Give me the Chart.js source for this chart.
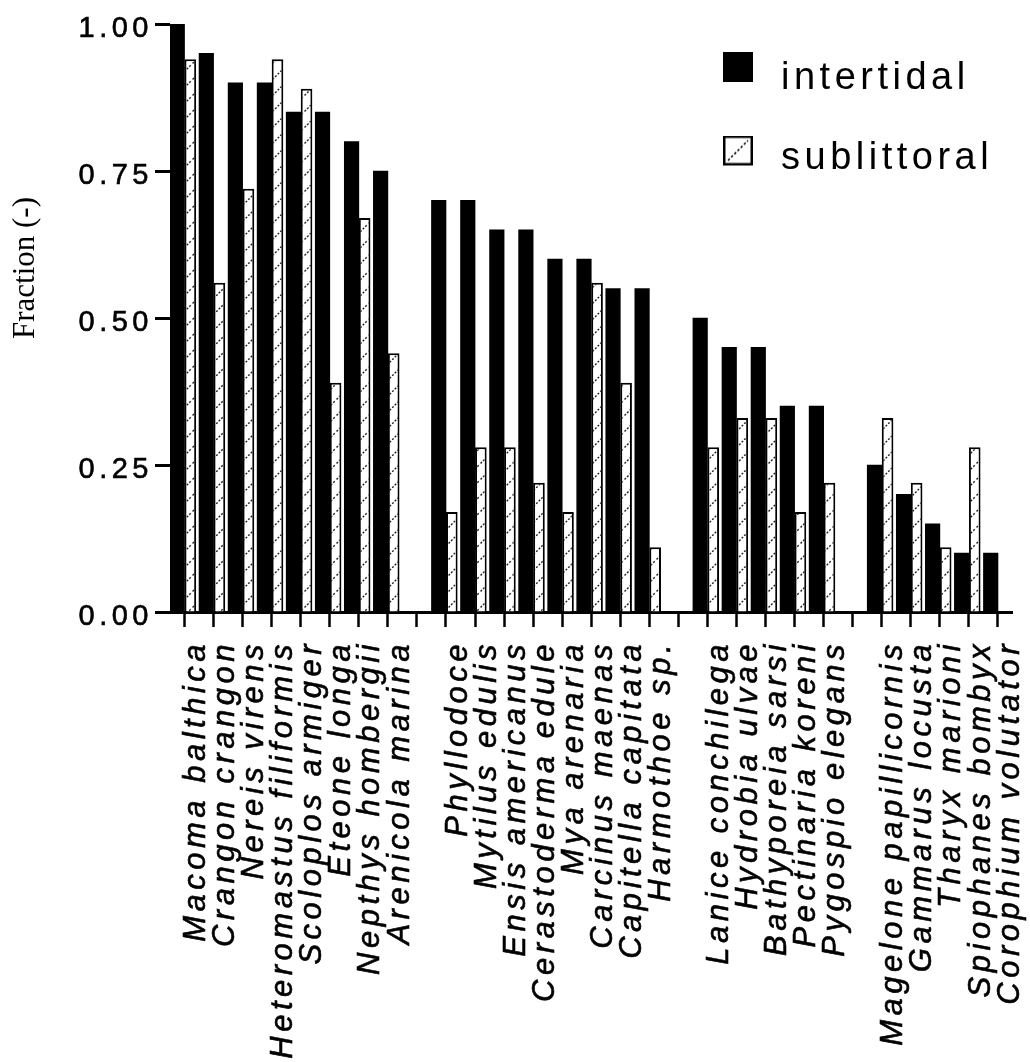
<!DOCTYPE html>
<html>
<head>
<meta charset="utf-8">
<script src="https://cdn.jsdelivr.net/npm/chart.js@4/dist/chart.umd.min.js"></script>
<style>html,body{margin:0;padding:0;background:#fff;}canvas{display:block;}</style>
</head>
<body>
<canvas id="c" width="1030" height="1062"></canvas>
<script>
// ---- data ----
const categories = [
  'Macoma balthica','Crangon crangon','Nereis virens','Heteromastus filiformis',
  'Scoloplos armiger','Eteone longa','Nepthys hombergii','Arenicola marina',
  '',
  'Phyllodoce','Mytilus edulis','Ensis americanus','Cerastoderma edule',
  'Mya arenaria','Carcinus maenas','Capitella capitata','Harmothoe sp.',
  '',
  'Lanice conchilega','Hydrobia ulvae','Bathyporeia sarsi','Pectinaria koreni','Pygospio elegans',
  '',
  'Magelone papillicornis','Gammarus locusta','Tharyx marioni','Spiophanes bombyx','Corophium volutator'
];
const intertidal = [
  1.00,0.95,0.90,0.90,0.85,0.85,0.80,0.75,
  null,
  0.70,0.70,0.65,0.65,0.60,0.60,0.55,0.55,
  null,
  0.50,0.45,0.45,0.35,0.35,
  null,
  0.25,0.20,0.15,0.10,0.10
];
const sublittoral = [
  0.94,0.56,0.72,0.94,0.89,0.39,0.67,0.44,
  null,
  0.17,0.28,0.28,0.22,0.17,0.56,0.39,0.11,
  null,
  0.28,0.33,0.33,0.17,0.22,
  null,
  0.33,0.22,0.11,0.28,0
];
const seriesNames = ['intertidal','sublittoral'];
const yAxisTitle = 'Fraction (-)';
const yMin = 0, yMax = 1, yStep = 0.25;

// ---- styling helpers ----
const canvas = document.getElementById('c');
const ctx = canvas.getContext('2d');

function makeHatch() {
  const s = 16;
  const c = document.createElement('canvas');
  c.width = s; c.height = s;
  const g = c.getContext('2d');
  g.fillStyle = '#fff';
  g.fillRect(0, 0, s, s);
  g.strokeStyle = '#222';
  g.lineWidth = 1.4;
  g.setLineDash([2, 1.6]);
  g.beginPath();
  g.moveTo(-2, s + 2); g.lineTo(s + 2, -2);
  g.stroke();
  return ctx.createPattern(c, 'repeat');
}

function makeIcon(hatched, shift) {
  const w = 30, h = 30 + shift;
  const c = document.createElement('canvas');
  c.width = w; c.height = h;
  const g = c.getContext('2d');
  if (!hatched) {
    g.fillStyle = '#000';
    g.fillRect(0, 0, 30, 30);
  } else {
    g.fillStyle = '#fff';
    g.fillRect(0, 0, 30, 30);
    g.strokeStyle = '#000';
    g.lineWidth = 2.5;
    g.strokeRect(1.25, 1.25, 27.5, 27.5);
    g.lineWidth = 1.5;
    g.setLineDash([2.5, 2]);
    g.beginPath();
    g.moveTo(5, 25); g.lineTo(25, 5);
    g.stroke();
  }
  return c;
}
const legendIcons = [makeIcon(false, 23), makeIcon(true, 16)];

const layoutPlugin = {
  id: 'layoutTweaks',
  afterLayout(chart) {
    const lg = chart.legend;
    if (lg) {
      lg.left = 672; lg.right = chart.width;
      lg.top = 17.5; lg.bottom = lg.top + 400;
    }
  },
  beforeDraw(chart) {
    chart.ctx.letterSpacing = '4.5px';
    const ys = chart.scales.y;
    if (ys && !ys.__patched) {
      const orig = ys.drawTitle;
      ys.drawTitle = function () {
        const c = this.ctx;
        c.save();
        c.letterSpacing = '0px';
        c.translate(0, -50);
        orig.call(this);
        c.restore();
      };
      ys.__patched = true;
    }
  },
  afterDraw(chart) {
    chart.ctx.letterSpacing = '0px';
  }
};

new Chart(ctx, {
  type: 'bar',
  data: {
    labels: categories,
    datasets: [
      {
        label: seriesNames[0],
        data: intertidal,
        backgroundColor: '#000',
        borderColor: '#000',
        borderWidth: 0,
        categoryPercentage: 1.0,
        barPercentage: 1.0
      },
      {
        label: seriesNames[1],
        data: sublittoral,
        backgroundColor: makeHatch(),
        borderColor: '#000',
        borderWidth: 2,
        categoryPercentage: 0.8,
        barPercentage: 1.0
      }
    ]
  },
  options: {
    responsive: false,
    animation: false,
    devicePixelRatio: 1,
    layout: { padding: { left: 0, top: 24, right: 17.5, bottom: 0 } },
    plugins: {
      tooltip: { enabled: false },
      legend: {
        position: 'chartArea',
        align: 'start',
        labels: {
          usePointStyle: true,
          pointStyleWidth: 48,
          padding: 42,
          color: '#000',
          font: { family: 'Liberation Sans', size: 38 },
          generateLabels(chart) {
            const items = Chart.defaults.plugins.legend.labels.generateLabels(chart);
            items.forEach((it, i) => { it.pointStyle = legendIcons[i]; });
            return items;
          }
        }
      }
    },
    scales: {
      x: {
        type: 'category',
        offset: true,
        grid: {
          offset: false,
          drawOnChartArea: false,
          drawTicks: true,
          tickLength: 15,
          tickWidth: 2.5,
          tickColor: '#000'
        },
        border: { display: true, color: '#000', width: 3 },
        ticks: {
          autoSkip: false,
          minRotation: 90,
          maxRotation: 90,
          padding: 13,
          labelOffset: 12,
          color: '#000',
          textStrokeColor: '#000',
          textStrokeWidth: 0.6,
          font: { family: 'Liberation Sans', size: 31, style: 'italic' }
        },
        afterFit(s) { s.height = 450; s.paddingLeft = 0; s.paddingRight = 0; }
      },
      y: {
        min: yMin,
        max: yMax,
        grid: {
          drawOnChartArea: false,
          drawTicks: true,
          tickLength: 15,
          tickWidth: 3,
          tickColor: '#000'
        },
        border: { display: false },
        ticks: {
          stepSize: yStep,
          padding: 2,
          labelOffset: 5,
          color: '#000',
          textStrokeColor: '#000',
          textStrokeWidth: 0.6,
          font: { family: 'Liberation Sans', size: 29 },
          callback: (v) => Number(v).toFixed(2)
        },
        title: {
          display: true,
          text: yAxisTitle,
          color: '#000',
          font: { family: 'Liberation Serif', size: 31 },
          padding: { top: 7, bottom: 0 }
        },
        afterFit(s) { s.width = 170; s.paddingTop = 0; s.paddingBottom = 0; }
      }
    }
  },
  plugins: [layoutPlugin]
});
</script>
</body>
</html>
